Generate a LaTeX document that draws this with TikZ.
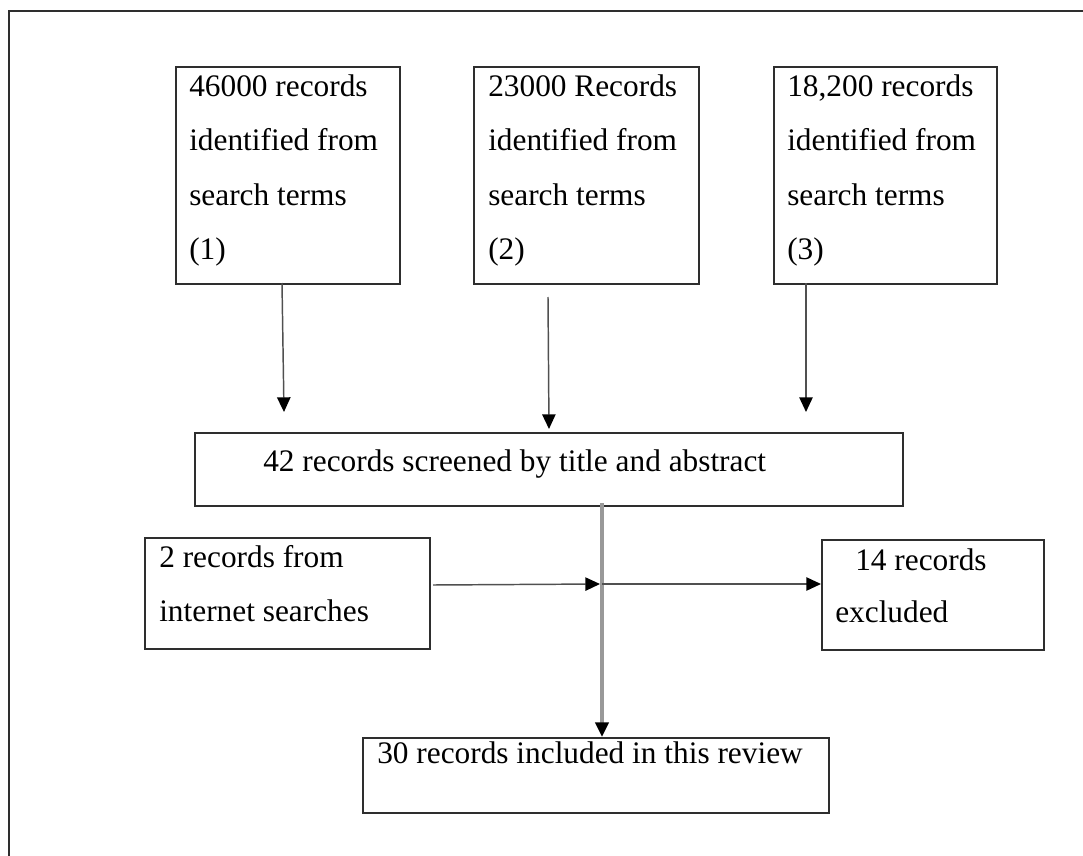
\documentclass[tikz,border=0pt]{standalone}
\usepackage{fontspec}
\setmainfont{Liberation Serif}
\usetikzlibrary{arrows.meta}

\definecolor{boxline}{HTML}{2E2E2E}
\definecolor{flowline}{HTML}{505050}
\definecolor{mainline}{HTML}{999999}

\tikzset{
  stage/.style={draw=boxline, line width=1.8pt, rectangle, inner sep=0pt},
  txt/.style={anchor=base west, inner sep=0pt, font=\fontsize{23.5pt}{40.5pt}\selectfont},
  flow/.style={draw=flowline, line width=1.1pt, -{Triangle[length=11pt, width=10pt, color=black]}},
  trunk/.style={draw=mainline, line width=2.4pt, -{Triangle[length=11pt, width=10pt, color=black]}},
}

\begin{document}
\begin{tikzpicture}[x=0.75pt, y=-0.75pt]
\useasboundingbox (0,0) rectangle (1083,856);
\begin{scope}
\clip (0,0) rectangle (1083,856);
\draw[draw=boxline, line width=1.8pt] (9,11) rectangle (1100,880);
\end{scope}

% source boxes
\node[stage, minimum width=224*0.75pt, minimum height=217*0.75pt, anchor=north west] (s1) at (175,66) {};
\node[stage, minimum width=225*0.75pt, minimum height=217*0.75pt, anchor=north west] (s2) at (473,66) {};
\node[stage, minimum width=223*0.75pt, minimum height=217*0.75pt, anchor=north west] (s3) at (773,66) {};

\node[txt] (t1a) at (189,97)  {46000 records};
\node[txt] (t1b) at (189,151) {identified from};
\node[txt] (t1c) at (189,205) {search terms};
\node[txt] (t1d) at (189,259) {(1)};

\node[txt] (t2a) at (488,97)  {23000 Records};
\node[txt] (t2b) at (488,151) {identified from};
\node[txt] (t2c) at (488,205) {search terms};
\node[txt] (t2d) at (488,259) {(2)};

\node[txt] (t3a) at (787,97)  {18,200 records};
\node[txt] (t3b) at (787,151) {identified from};
\node[txt] (t3c) at (787,205) {search terms};
\node[txt] (t3d) at (787,259) {(3)};

% screening
\node[stage, minimum width=708*0.75pt, minimum height=73*0.75pt, anchor=north west] (scr) at (194,432) {};
\node[txt] (tscr) at (263,471) {42 records screened by title and abstract};

% internet searches
\node[stage, minimum width=285*0.75pt, minimum height=111*0.75pt, anchor=north west] (net) at (144,537) {};
\node[txt] (tnet1) at (159,567) {2 records from};
\node[txt] (tnet2) at (159,621) {internet searches};

% excluded
\node[stage, minimum width=222*0.75pt, minimum height=110*0.75pt, anchor=north west] (exc) at (821,539) {};
\node[txt] (texc1) at (855,570) {14 records};
\node[txt] (texc2) at (835,622) {excluded};

% included
\node[stage, minimum width=466*0.75pt, minimum height=75*0.75pt, anchor=north west] (inc) at (362,737) {};
\node[txt] (tinc) at (377,763) {30 records included in this review};

% connectors from the sources
\coordinate (a1s) at (282,283);
\coordinate (a1e) at (284,412);
\coordinate (a2s) at (548,297);
\coordinate (a2e) at (549,429);
\coordinate (a3s) at (806,283);
\coordinate (a3e) at (806,412);
\draw[flow] (a1s) -- (a1e);
\draw[flow] (a2s) -- (a2e);
\draw[flow] (a3s) -- (a3e);

% main trunk and side branches
\coordinate (trunktop) at (602,503);
\coordinate (junc) at (602,584);
\coordinate (netout) at (433,585);
\coordinate (juncin) at (600,584);
\draw[trunk] (trunktop) -- (inc.north -| trunktop);
\draw[flow] (netout) -- (juncin);
\draw[flow] (junc) -- (exc.west |- junc);
\end{tikzpicture}
\end{document}
